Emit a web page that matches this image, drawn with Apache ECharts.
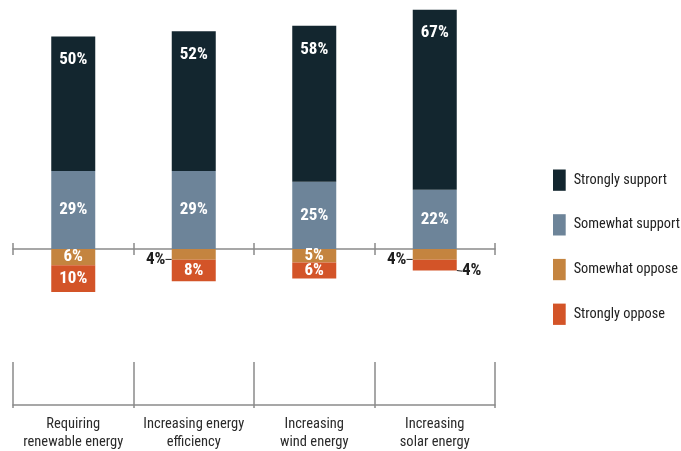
<!DOCTYPE html>
<html>
<head>
<meta charset="utf-8">
<script src="https://cdn.jsdelivr.net/npm/echarts@6/dist/echarts.min.js"></script>
<style>html,body{margin:0;padding:0;background:#fff}#c{width:681px;height:451px}</style>
</head>
<body>
<div id="c"></div>
<script>
const categories = ['Requiring\nrenewable energy', 'Increasing energy\nefficiency', 'Increasing\nwind energy', 'Increasing\nsolar energy'];
const stronglySupport = [50, 52, 58, 67];
const somewhatSupport = [29, 29, 25, 22];
const somewhatOppose = [6, 4, 5, 4];
const stronglyOppose = [10, 8, 6, 4];
const seriesNames = ['Strongly support', 'Somewhat support', 'Somewhat oppose', 'Strongly oppose'];

const FONT = "'Roboto Condensed','Liberation Sans Narrow','DejaVu Sans Condensed','Arial Narrow',sans-serif";
const colors = { ss: '#13262f', ws: '#6d8499', wo: '#c4843f', so: '#d35428' };
const SMALL = 4;
const axisGray = '#8a8a8a';

const chart = echarts.init(document.getElementById('c'));

const baseLabel = {
  show: true, color: '#fff', fontFamily: FONT, fontWeight: 'bold', fontSize: 17,
  formatter: p => Math.abs(p.value) + '%'
};
const darkLabel = { color: '#1e1e1e' };
const guide = { show: true, lineStyle: { color: '#1e1e1e', width: 1 } };

function negData(arr) {
  return arr.map(v => v <= SMALL ? { value: -v, label: darkLabel, labelLine: guide } : -v);
}

chart.setOption({
  animation: false,
  textStyle: { fontFamily: FONT },
  grid: [
    { left: 13, right: 186, top: 7, bottom: 148.2 },
    { left: 13, right: 186, top: 362, height: 43 }
  ],
  legend: {
    orient: 'vertical', left: 548, top: 164.5, icon: 'rect',
    itemWidth: 12.7, itemHeight: 21.3, itemGap: 23.4,
    data: seriesNames,
    textStyle: { fontFamily: FONT, fontSize: 14.3, color: '#222', padding: [0, 0, 0, 3] }
  },
  xAxis: [
    {
      type: 'category', data: categories, gridIndex: 0,
      axisLine: { onZero: true, onZeroAxisIndex: 0, lineStyle: { color: axisGray, width: 1.5 } },
      axisTick: { show: true, interval: 0, inside: true, length: 6, lineStyle: { color: axisGray, width: 1.5 } },
      axisLabel: { show: false }, splitLine: { show: false }
    },
    {
      type: 'category', data: categories, gridIndex: 0, position: 'bottom',
      axisLine: { show: false, onZero: true, onZeroAxisIndex: 0 },
      axisTick: { show: true, interval: 0, inside: false, length: 6, lineStyle: { color: axisGray, width: 1.5 } },
      axisLabel: { show: false }, splitLine: { show: false }
    },
    {
      type: 'category', data: categories, gridIndex: 1, position: 'bottom',
      axisLine: { show: true, lineStyle: { color: axisGray, width: 1.5 } },
      axisTick: { show: true, interval: 0, length: 3, lineStyle: { color: axisGray, width: 1.5 } },
      splitLine: { show: true, interval: 0, lineStyle: { color: axisGray, width: 1.5 } },
      axisLabel: { interval: 0, color: '#2a2a2a', fontFamily: FONT, fontSize: 14.5, lineHeight: 18, margin: 10 }
    }
  ],
  yAxis: [
    { type: 'value', gridIndex: 0, min: -20, max: 90, show: false },
    { type: 'value', gridIndex: 1, show: false }
  ],
  series: [
    {
      name: 'Somewhat support', type: 'bar', stack: 'a', barWidth: 44,
      itemStyle: { color: colors.ws }, data: somewhatSupport,
      label: Object.assign({}, baseLabel, { position: 'inside' })
    },
    {
      name: 'Strongly support', type: 'bar', stack: 'a', barWidth: 44,
      itemStyle: { color: colors.ss }, data: stronglySupport,
      label: Object.assign({}, baseLabel, { position: 'insideTop', distance: 15 })
    },
    {
      name: 'Somewhat oppose', type: 'bar', stack: 'a', barWidth: 44,
      itemStyle: { color: colors.wo }, data: negData(somewhatOppose),
      label: Object.assign({}, baseLabel, { position: 'inside' }),
      labelLine: { show: false },
      labelLayout: p => somewhatOppose[p.dataIndex] <= SMALL ? { dx: -38, dy: 5 } : {}
    },
    {
      name: 'Strongly oppose', type: 'bar', stack: 'a', barWidth: 44,
      itemStyle: { color: colors.so }, data: negData(stronglyOppose),
      label: Object.assign({}, baseLabel, { position: 'inside' }),
      labelLine: { show: false },
      labelLayout: p => stronglyOppose[p.dataIndex] <= SMALL ? { dx: 37, dy: 6 } : {}
    }
  ]
});
</script>
</body>
</html>
